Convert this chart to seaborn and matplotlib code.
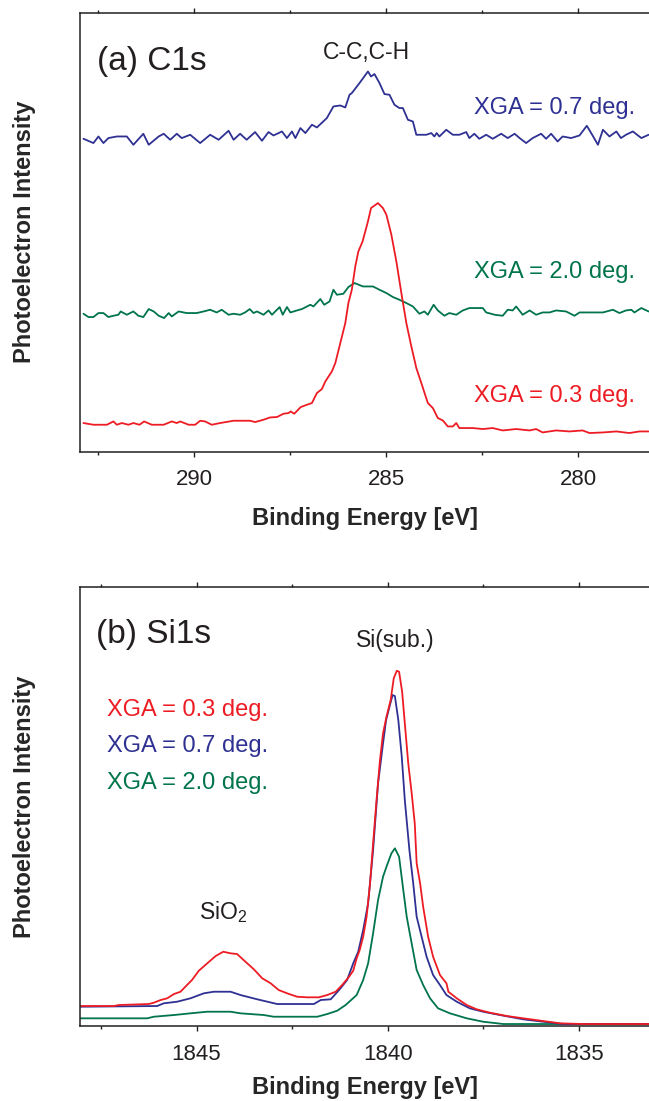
import matplotlib
matplotlib.use("Agg")
import matplotlib.pyplot as plt
import seaborn as sns
from matplotlib.ticker import MultipleLocator

# ---- data ----
# (a) C1s, XGA = 0.7 deg.
c1s_e_07 = [292.88, 292.62, 292.49, 292.36, 292.23, 292.01, 291.75, 291.58, 291.32, 291.18,
            290.92, 290.79, 290.62, 290.45, 290.32, 290.10, 289.84, 289.58, 289.36, 289.10,
            288.97, 288.80, 288.63, 288.41, 288.23, 288.06, 287.93, 287.71, 287.58, 287.45,
            287.36, 287.23, 287.10, 286.93, 286.80, 286.54, 286.37, 286.19, 286.06, 285.95,
            285.89, 285.69, 285.47, 285.39, 285.30, 285.17, 285.04, 284.91, 284.78, 284.65,
            284.56, 284.43, 284.30, 284.21, 283.95, 283.82, 283.74, 283.68, 283.61, 283.43,
            283.26, 283.09, 282.91, 282.83, 282.70, 282.57, 282.39, 282.22, 282.00, 281.83,
            281.65, 281.52, 281.35, 281.18, 280.96, 280.83, 280.70, 280.53, 280.40, 280.18,
            279.96, 279.77, 279.63, 279.48, 279.35, 279.18, 279.00, 278.88, 278.75, 278.57,
            278.35, 278.16]
c1s_i_07 = [313, 308.7, 315.3, 308.7, 313.7, 315.3, 315.3, 307, 318, 307,
            315.3, 318, 312, 318, 313.7, 317, 308.7, 317, 312, 321,
            312, 318, 312, 319.7, 311, 319.7, 316.3, 320.3, 313.7, 320.3,
            313.7, 323.7, 318.7, 327, 324.3, 333.7, 345.3, 346.3, 344.3, 357,
            358.7, 368.7, 380.3, 375.3, 377.7, 368.7, 357.7, 357, 347, 343.7,
            343.7, 332, 330.3, 317, 317, 318.7, 315.3, 318.7, 315.3, 322,
            317, 317, 319.7, 313.7, 318, 313, 317, 313, 318, 313.7,
            318, 313.7, 308.7, 313.7, 318, 313, 318, 310.3, 315.3, 313.7,
            316.3, 326, 317, 307, 322, 315.3, 320.3, 313.7, 317, 320.3,
            313.7, 317]

# (a) C1s, XGA = 2.0 deg.
c1s_e_20 = [292.88, 292.75, 292.62, 292.49, 292.36, 292.23, 292.10, 291.97, 291.91, 291.75,
            291.58, 291.45, 291.32, 291.18, 291.05, 290.92, 290.78, 290.66, 290.58, 290.40,
            290.19, 289.93, 289.75, 289.58, 289.41, 289.28, 289.10, 288.97, 288.80, 288.67,
            288.55, 288.45, 288.36, 288.19, 288.06, 287.97, 287.77, 287.69, 287.58, 287.49,
            287.32, 287.19, 286.97, 286.89, 286.71, 286.61, 286.47, 286.37, 286.28, 286.11,
            285.98, 285.82, 285.60, 285.34, 285.17, 284.99, 284.82, 284.65, 284.47, 284.30,
            284.13, 284.00, 283.91, 283.76, 283.65, 283.48, 283.35, 283.17, 283.00, 282.83,
            282.65, 282.48, 282.39, 282.17, 281.96, 281.83, 281.70, 281.61, 281.44, 281.26,
            281.09, 280.92, 280.74, 280.57, 280.31, 280.09, 279.96, 279.70, 279.35, 279.09,
            278.92, 278.75, 278.61, 278.53, 278.35, 278.16]
c1s_i_20 = [138, 134.7, 134.7, 138.7, 138.7, 134.7, 136, 137, 140.3, 137,
            140.3, 136, 134.7, 142.7, 140.3, 136, 133.7, 138.7, 135.3, 140.3,
            138.7, 138.7, 140.3, 142, 139.3, 142, 137, 138, 137, 139.3,
            142.7, 138.7, 140.3, 137, 141.3, 137, 144.7, 137, 144.7, 139.3,
            141.3, 142.7, 147, 145.3, 152.7, 147, 150.3, 162, 157, 158,
            164.7, 168.7, 165.3, 165.3, 162, 158.7, 154.7, 152, 148.7, 145.3,
            138, 140.3, 137, 147, 141.3, 136, 138.7, 137, 141.3, 143.7,
            143.7, 143.7, 139.3, 137, 136, 142, 141.3, 145.3, 137, 141.3,
            137, 139.3, 139.3, 141.3, 140.3, 136, 139.3, 139.3, 139.3, 142,
            138.7, 141.3, 142, 139.3, 143.7, 140.3]

# (a) C1s, XGA = 0.3 deg.
c1s_e_03 = [292.88, 292.62, 292.27, 292.10, 292.01, 291.88, 291.71, 291.58, 291.42, 291.30,
            291.10, 290.79, 290.58, 290.45, 290.36, 290.14, 289.97, 289.84, 289.71, 289.54,
            289.32, 288.97, 288.54, 288.41, 288.19, 288.02, 287.84, 287.67, 287.54, 287.48,
            287.39, 287.22, 287.06, 286.93, 286.80, 286.67, 286.58, 286.41, 286.32, 286.19,
            286.06, 285.98, 285.89, 285.80, 285.72, 285.61, 285.47, 285.39, 285.21, 285.08,
            284.99, 284.86, 284.73, 284.60, 284.47, 284.34, 284.21, 284.08, 283.91, 283.78,
            283.65, 283.52, 283.39, 283.26, 283.17, 283.09, 282.74, 282.48, 282.22, 281.96,
            281.61, 281.26, 281.09, 280.92, 280.57, 280.22, 279.88, 279.70, 279.35, 279.00,
            278.66, 278.40, 278.16]
c1s_i_03 = [28.7, 27, 27, 30.3, 27, 28.7, 27, 28.7, 27, 30.3,
            27, 27, 30.3, 28.7, 30.3, 27, 27, 31, 30.3, 27,
            28.7, 31, 31, 29.7, 32, 34.3, 34.7, 38, 38.7, 40.3,
            38, 44.7, 47, 48.7, 58.7, 62.7, 70.3, 80.3, 88.7, 108.7,
            128.7, 148.7, 162, 185.3, 200.3, 210.3, 230.3, 243.7, 248.7, 243.7,
            237, 217, 190.3, 158.7, 128.7, 105.3, 83.7, 68.7, 48.7, 43.7,
            33.7, 31.3, 25.3, 25.3, 28.7, 23.7, 23.7, 22.7, 23.7, 21.3,
            22.7, 21.3, 22.7, 19.3, 21.3, 20.3, 21.3, 18.7, 19.3, 20.3,
            18.7, 20.3, 20.3]

# (b) Si1s, XGA = 0.3 deg.
si1s_e_03 = [1848.04, 1847.16, 1847.03, 1846.25, 1846.12, 1845.94, 1845.77, 1845.59, 1845.42, 1845.25,
             1845.12, 1844.94, 1844.72, 1844.50, 1844.30, 1844.11, 1843.94, 1843.72, 1843.50, 1843.28,
             1843.06, 1842.85, 1842.63, 1842.37, 1842.10, 1841.80, 1841.58, 1841.36, 1841.19, 1841.01,
             1840.90, 1840.81, 1840.73, 1840.64, 1840.55, 1840.46, 1840.38, 1840.29, 1840.20, 1840.12,
             1840.03, 1839.92, 1839.84, 1839.76, 1839.70, 1839.62, 1839.55, 1839.46, 1839.37, 1839.29,
             1839.24, 1839.15, 1839.07, 1838.94, 1838.81, 1838.63, 1838.46, 1838.41, 1838.19, 1837.93,
             1837.67, 1837.32, 1836.88, 1836.45, 1835.93, 1835.49, 1834.88, 1834.01, 1833.16]
si1s_i_03 = [20, 20, 21, 22, 23.3, 26, 27.7, 32, 34.3, 41,
             46, 55.3, 62.7, 70, 74.3, 72.7, 72, 64.3, 56.7, 47.7,
             42.7, 36, 32.7, 29.3, 28.7, 28.7, 31, 34.3, 41, 49.3,
             55.3, 67.7, 76, 89.3, 109.3, 142.7, 182.7, 226, 266, 292.7,
             309.3, 326, 347.7, 355.3, 354.3, 334.3, 302.7, 262.7, 232.7, 202.7,
             162.7, 142.7, 119.3, 89.3, 69.3, 51, 42.7, 34.3, 27.7, 21,
             16.7, 13.3, 10, 7.7, 5, 2.7, 2, 2, 2]

# (b) Si1s, XGA = 0.7 deg.
si1s_e_07 = [1848.04, 1846.03, 1845.86, 1845.51, 1845.16, 1844.81, 1844.55, 1844.11, 1843.85, 1843.41,
             1842.89, 1842.37, 1841.93, 1841.75, 1841.49, 1841.27, 1841.06, 1840.90, 1840.77, 1840.64,
             1840.51, 1840.38, 1840.25, 1840.12, 1840.04, 1839.94, 1839.87, 1839.81, 1839.72, 1839.63,
             1839.55, 1839.43, 1839.33, 1839.24, 1839.11, 1838.98, 1838.81, 1838.63, 1838.46, 1838.19,
             1837.85, 1837.50, 1837.06, 1836.45, 1835.93, 1835.40, 1833.16]
si1s_i_07 = [19.3, 20, 22.7, 24.3, 27.7, 32.7, 34.3, 34.3, 31, 26.7,
             22, 22, 22, 26, 26.7, 36, 46, 62.7, 74.3, 96,
             122.7, 176, 242.7, 282.7, 306, 321, 331, 330, 306, 269.3,
             226, 176, 142.7, 109.3, 89.3, 69.3, 51, 41, 31, 24.3,
             17.7, 14.3, 11, 6.7, 4.3, 2, 2]

# (b) Si1s, XGA = 2.0 deg.
si1s_e_20 = [1848.04, 1846.29, 1846.12, 1845.59, 1845.16, 1844.72, 1844.11, 1843.85, 1843.24, 1842.98,
             1841.84, 1841.58, 1841.32, 1841.10, 1840.81, 1840.64, 1840.51, 1840.38, 1840.25, 1840.12,
             1840.03, 1839.90, 1839.81, 1839.70, 1839.59, 1839.50, 1839.42, 1839.24, 1839.07, 1838.89,
             1838.68, 1838.37, 1837.93, 1837.50, 1836.97, 1833.16]
si1s_i_20 = [7.7, 7.7, 9.3, 11, 12.7, 14.3, 14.3, 12.7, 11, 9.3,
             9.3, 12, 15.3, 21, 31, 46, 62.7, 92.7, 126, 149.3,
             159.3, 172.7, 177.7, 169.3, 136, 109.3, 92.7, 56, 41, 27.7,
             17.7, 12.7, 7.7, 4.3, 2, 2]

xga_labels = ["XGA = 0.3 deg.", "XGA = 0.7 deg.", "XGA = 2.0 deg."]

RED = "#ED1C24"
BLUE = "#2E3192"
GREEN = "#00744A"
INK = "#231F20"

sns.set_style("ticks")
plt.rcParams["font.family"] = ["Liberation Sans", "DejaVu Sans"]
plt.rcParams["mathtext.fontset"] = "custom"
plt.rcParams["mathtext.rm"] = "Liberation Sans"
plt.rcParams["text.color"] = INK

fig = plt.figure(figsize=(6.49, 11.01), dpi=100)
ax_c = fig.add_axes([80 / 649, 0.5897, 569 / 649, 0.3987])
ax_s = fig.add_axes([80 / 649, 0.0681, 569 / 649, 0.3987])


def style_axis(ax, xlim, labelpad):
    ax.set_xlim(*xlim)
    ax.set_ylim(0, 439)
    ax.set_yticks([])
    for side in ["top", "left", "bottom"]:
        ax.spines[side].set_visible(True)
        ax.spines[side].set_linewidth(1.1)
        ax.spines[side].set_color(INK)
    ax.spines["right"].set_visible(False)
    ax.xaxis.set_major_locator(MultipleLocator(5))
    ax.xaxis.set_minor_locator(MultipleLocator(2.5))
    ax.tick_params(axis="x", which="both", direction="out", top=True, bottom=True,
                   labeltop=False, color=INK, width=1.0)
    ax.tick_params(axis="x", which="major", length=3.6, labelsize=16, pad=9, labelcolor=INK)
    ax.tick_params(axis="x", which="minor", length=2.3)
    ax.set_xlabel("Binding Energy [eV]", fontsize=17, fontweight="bold", labelpad=labelpad)
    ax.set_ylabel("Photoelectron Intensity", fontsize=17, fontweight="bold")
    ax.yaxis.set_label_coords(-44 / 569, 0.5)


# (a) C1s
sns.lineplot(x=c1s_e_07, y=c1s_i_07, color=BLUE, lw=1.3, estimator=None, ax=ax_c)
sns.lineplot(x=c1s_e_20, y=c1s_i_20, color=GREEN, lw=1.3, estimator=None, ax=ax_c)
sns.lineplot(x=c1s_e_03, y=c1s_i_03, color=RED, lw=1.3, estimator=None, ax=ax_c)
style_axis(ax_c, (292.97, 278.15), 12)

ax_c.text(0.030, 0.890, "(a) C1s", fontsize=24, va="center", ha="left", transform=ax_c.transAxes)
ax_c.text(0.504, 0.910, "C-C,C-H", fontsize=16.5, va="center", ha="center", transform=ax_c.transAxes)
ax_c.text(0.975, 0.783, xga_labels[1], fontsize=17, color=BLUE, ha="right", va="center",
          transform=ax_c.transAxes)
ax_c.text(0.975, 0.409, xga_labels[2], fontsize=17, color=GREEN, ha="right", va="center",
          transform=ax_c.transAxes)
ax_c.text(0.975, 0.127, xga_labels[0], fontsize=17, color=RED, ha="right", va="center",
          transform=ax_c.transAxes)

# (b) Si1s
sns.lineplot(x=si1s_e_20, y=si1s_i_20, color=GREEN, lw=1.3, estimator=None, ax=ax_s)
sns.lineplot(x=si1s_e_07, y=si1s_i_07, color=BLUE, lw=1.3, estimator=None, ax=ax_s)
sns.lineplot(x=si1s_e_03, y=si1s_i_03, color=RED, lw=1.3, estimator=None, ax=ax_s)
style_axis(ax_s, (1848.05, 1833.16), 8.5)

ax_s.text(0.028, 0.891, "(b) Si1s", fontsize=24, va="center", ha="left", transform=ax_s.transAxes)
ax_s.text(0.555, 0.879, "Si(sub.)", fontsize=16.5, va="center", ha="center", transform=ax_s.transAxes)
ax_s.text(0.251, 0.260, r"SiO$_{\rm 2}$", fontsize=16.5, va="center", ha="center",
          transform=ax_s.transAxes)
for lab, col, yy in zip(xga_labels, [RED, BLUE, GREEN], [0.720, 0.638, 0.554]):
    ax_s.text(0.0475, yy, lab, fontsize=17, color=col, ha="left", va="center",
              transform=ax_s.transAxes)

fig.savefig("out.png", dpi=100)
